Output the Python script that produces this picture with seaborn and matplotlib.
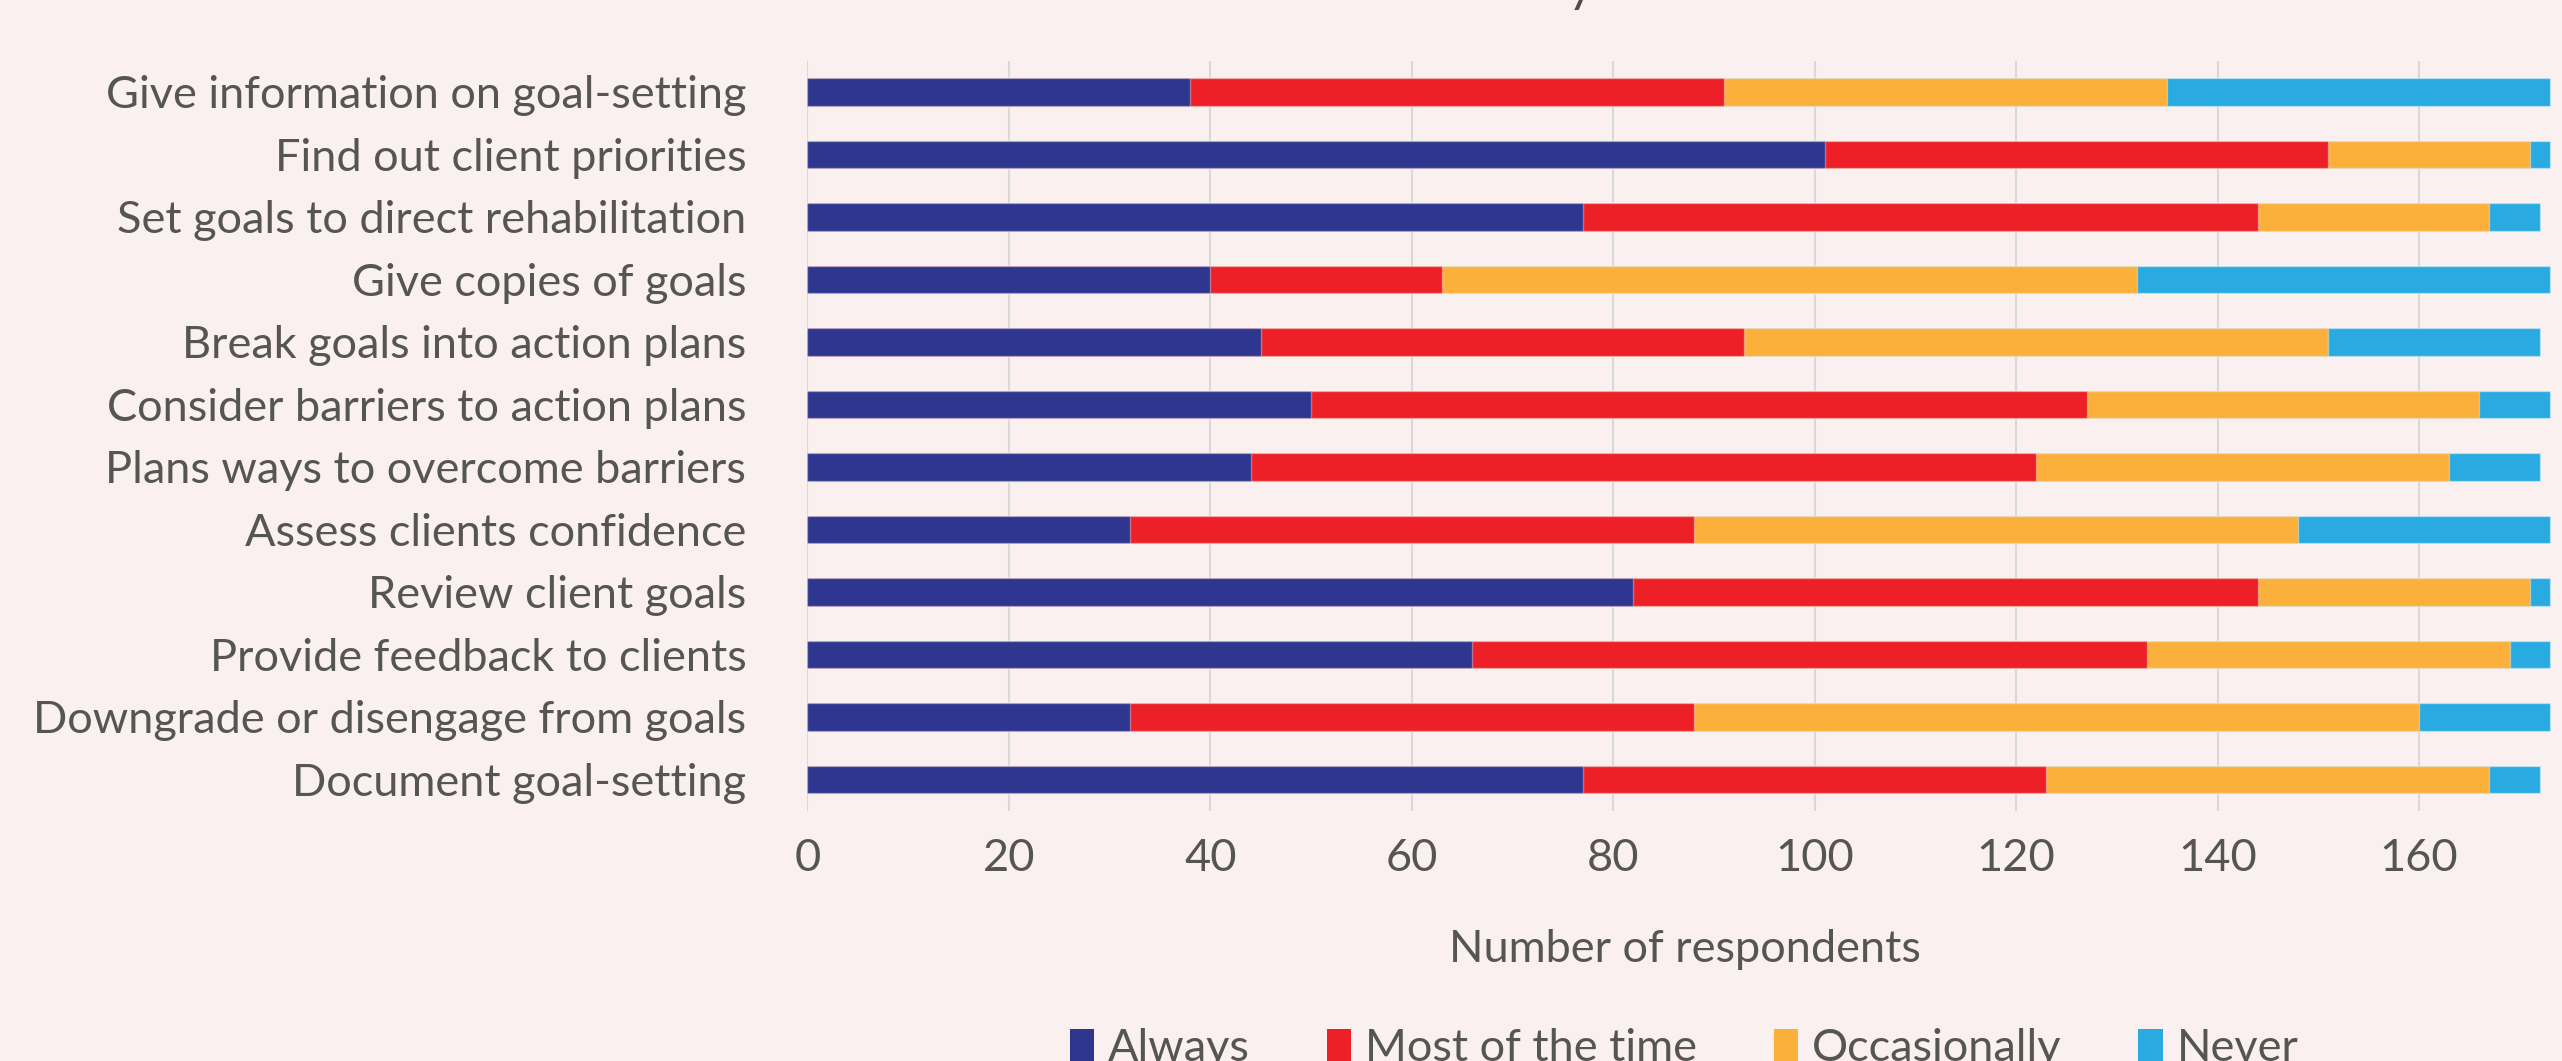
import matplotlib
matplotlib.use("Agg")
import matplotlib.pyplot as plt
import matplotlib.patches as mpatches
import seaborn as sns
import pandas as pd
import numpy as np

categories = [
    "Give information on goal-setting",
    "Find out client priorities",
    "Set goals to direct rehabilitation",
    "Give copies of goals",
    "Break goals into action plans",
    "Consider barriers to action plans",
    "Plans ways to overcome barriers",
    "Assess clients confidence",
    "Review client goals",
    "Provide feedback to clients",
    "Downgrade or disengage from goals",
    "Document goal-setting",
]
always = [38, 101, 77, 40, 45, 50, 44, 32, 82, 66, 32, 77]
most_of_the_time = [53, 50, 67, 23, 48, 77, 78, 56, 62, 67, 56, 46]
occasionally = [44, 20, 23, 69, 58, 39, 41, 60, 27, 36, 72, 44]
never = [38, 2, 5, 41, 21, 7, 9, 25, 2, 4, 13, 5]

series_names = ["Always", "Most of the time", "Occasionally", "Never"]
series_colors = ["#2E3690", "#ED1F27", "#FBB03B", "#29ABE2"]
x_ticks = [0, 20, 40, 60, 80, 100, 120, 140, 160]

BG = "#F9F0EF"
TXT = "#555555"
FS = 32.5

sns.set_theme(style="white")
plt.rcParams["font.family"] = ["Lato", "DejaVu Sans"]

df = pd.DataFrame({
    "category": categories,
    "Always": always,
    "Most of the time": most_of_the_time,
    "Occasionally": occasionally,
    "Never": never,
})
cum = df[series_names].cumsum(axis=1)
cum["category"] = df["category"]

W, H = 2562, 1061
fig = plt.figure(figsize=(W / 100, H / 100), dpi=100, facecolor=BG)
ax = fig.add_axes([807.4 / W, 1 - 810.7 / H, (W - 807.4) / W, 750 / H])
ax.set_facecolor(BG)

# draw cumulative layers from the outermost to innermost
for name, color in reversed(list(zip(series_names, series_colors))):
    sns.barplot(data=cum, x=name, y="category", order=categories, orient="h",
                color=color, saturation=1, width=0.44, ax=ax,
                edgecolor=(1, 1, 1, 0.35), linewidth=1.0, errorbar=None, zorder=3)

ax.set_xlim(0, 174.2)
ax.set_ylim(len(categories) - 0.5, -0.5)
ax.set_xticks(x_ticks)
ax.set_xticklabels([str(t) for t in x_ticks])
ax.xaxis.grid(True, color="#D9D9D9", linewidth=1.5, zorder=0)
ax.yaxis.grid(False)
ax.set_axisbelow(True)
for s in ax.spines.values():
    s.set_visible(False)
ax.tick_params(axis="both", length=0, labelsize=FS, labelcolor=TXT)
ax.tick_params(axis="x", pad=20)
ax.tick_params(axis="y", pad=44)
ax.set_ylabel("")
ax.set_xlabel("Number of respondents", fontsize=FS, color=TXT, labelpad=36)

# partially visible title glyph at the top edge
fig.text(1580 / W, 0.999, "y", fontsize=36, color="#4D4D4D", ha="center",
         va="baseline")

handles = [mpatches.Patch(facecolor=c, edgecolor="none", label=n)
           for n, c in zip(series_names, series_colors)]
leg = fig.legend(handles=handles, loc="center", bbox_to_anchor=(1684 / W, 0.012),
                 ncol=4, frameon=False, fontsize=FS, handlelength=0.55,
                 handleheight=0.7, handletextpad=0.3, columnspacing=1.7)
for t in leg.get_texts():
    t.set_color(TXT)

fig.savefig("out.png", dpi=100, facecolor=BG)
